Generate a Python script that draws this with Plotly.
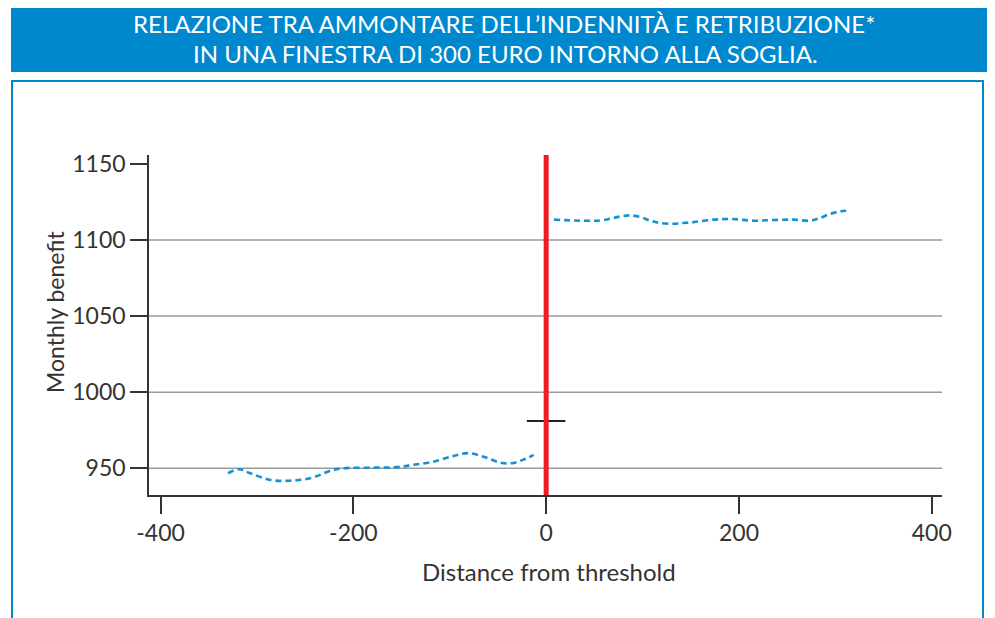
import plotly.graph_objects as go

# ---- data ----
left_x = [-330, -319, -307, -286, -266, -245, -221, -210, -179, -155, -138, -117, -96, -81, -65, -48, -36, -24, -13]
left_y = [946.7, 949.3, 946.7, 942.3, 941.8, 943.4, 948.9, 950.0, 950.4, 950.7, 952.2, 954.3, 958.1, 959.9, 957.6, 953.7, 953.3, 955.5, 958.8]
right_x = [8, 56, 77, 87, 98, 108, 118, 132, 142, 153, 174, 194, 215, 236, 257, 274, 284, 295, 305, 315]
right_y = [1113.4, 1112.9, 1115.5, 1116.2, 1115.1, 1112.7, 1111.2, 1110.7, 1111.2, 1111.8, 1113.4, 1113.8, 1112.7, 1113.2, 1113.4, 1112.7, 1114.5, 1117.3, 1118.8, 1119.5]
threshold_x = 0
seg_x = [-20, 20]
seg_y = [981, 981]
x_ticks = [-400, -200, 0, 200, 400]
x_tick_labels = ["-400", "-200", "0", "200", "400"]
y_ticks = [950, 1000, 1050, 1100, 1150]
grid_values = [950, 1000, 1050, 1100]
title_lines = ["RELAZIONE TRA AMMONTARE DELL’INDENNITÀ E RETRIBUZIONE*",
               "IN UNA FINESTRA DI 300 EURO INTORNO ALLA SOGLIA."]
x_title = "Distance from threshold"
y_title = "Monthly benefit"

BLUE = "#0088CE"
FONT = "Lato"
OFF = 8  # page body margin

# plot area in window pixels
L, R, T, B = 149, 942, 155, 495
W, H = 995 - OFF, 618 - OFF
pw, ph = R - L, B - T

def px(x):
    return (x - L) / pw

def py(y):
    return (B - y) / ph

fig = go.Figure()

fig.add_trace(go.Scatter(x=left_x, y=left_y, mode="lines",
                         line=dict(color="#1590D5", width=2.6, dash="6px,4px", shape="spline"),
                         hoverinfo="skip", showlegend=False))
fig.add_trace(go.Scatter(x=right_x, y=right_y, mode="lines",
                         line=dict(color="#1590D5", width=2.6, dash="6px,4px", shape="spline"),
                         hoverinfo="skip", showlegend=False))
fig.add_trace(go.Scatter(x=seg_x, y=seg_y, mode="lines",
                         line=dict(color="#222222", width=2),
                         hoverinfo="skip", showlegend=False))

shapes = []
# outer box
shapes.append(dict(type="rect", xref="paper", yref="paper",
                   x0=px(12), x1=px(983), y0=py(640), y1=py(81),
                   line=dict(color=BLUE, width=2), fillcolor="rgba(0,0,0,0)", layer="below"))
# banner
shapes.append(dict(type="rect", xref="paper", yref="paper",
                   x0=px(11), x1=px(992), y0=py(72), y1=py(4),
                   line=dict(width=0), fillcolor=BLUE, layer="below"))
# grid lines
for g in grid_values:
    shapes.append(dict(type="line", xref="paper", yref="y", x0=0, x1=1, y0=g, y1=g,
                       line=dict(color="#9b9b9b", width=1.5), layer="below"))
# threshold line
shapes.append(dict(type="line", xref="x", yref="paper", x0=threshold_x, x1=threshold_x, y0=0, y1=1,
                   line=dict(color="#EE1D25", width=5)))

annotations = [
    dict(text=title_lines[0], xref="paper", yref="paper", x=px(504), y=py(23.5),
         xanchor="center", yanchor="middle", showarrow=False, borderpad=0,
         font=dict(family=FONT, size=24, color="white")),
    dict(text=title_lines[1], xref="paper", yref="paper", x=px(505), y=py(53.5),
         xanchor="center", yanchor="middle", showarrow=False, borderpad=0,
         font=dict(family=FONT, size=24, color="white")),
    dict(text=x_title, xref="paper", yref="paper", x=px(549), y=py(571),
         xanchor="center", yanchor="middle", showarrow=False,
         font=dict(family=FONT, size=24, color="#333333")),
    dict(text=y_title, xref="paper", yref="paper", x=px(55), y=py(312),
         xanchor="center", yanchor="middle", showarrow=False, textangle=-90,
         font=dict(family=FONT, size=23, color="#333333")),
]

fig.update_layout(
    width=W, height=H,
    margin=dict(l=L - OFF, r=995 - R, t=T - OFF, b=618 - B, pad=0),
    paper_bgcolor="white", plot_bgcolor="white",
    shapes=shapes, annotations=annotations,
    xaxis=dict(range=[-412, 410.6], tickvals=x_ticks, ticktext=x_tick_labels,
               showgrid=False, zeroline=False,
               showline=True, linecolor="#333333", linewidth=1.5,
               ticks="outside", ticklen=17, tickwidth=1.5, tickcolor="#333333",
               tickfont=dict(family=FONT, size=23, color="#333333")),
    yaxis=dict(range=[932.4, 1155.9], tickvals=y_ticks, showgrid=False, zeroline=False,
               showline=True, linecolor="#333333", linewidth=1.5,
               ticks="outside", ticklen=17, tickwidth=1.5, tickcolor="#333333",
               tickfont=dict(family=FONT, size=23, color="#333333")),
)

fig.write_html("out.html")
